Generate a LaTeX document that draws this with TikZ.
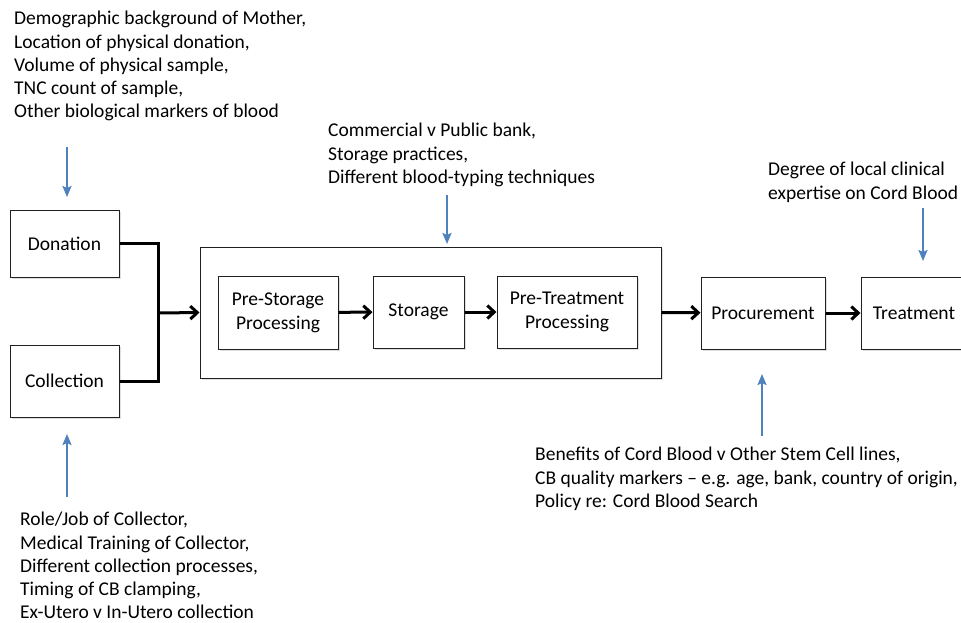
\documentclass[tikz,border=0pt]{standalone}
\usepackage{fontspec}
\setmainfont{Carlito}
\usetikzlibrary{arrows.meta,shadows}
\definecolor{noteBlue}{HTML}{4F81BD}
\definecolor{boxLine}{HTML}{202020}

\begin{document}
\begin{tikzpicture}[x=1pt,y=-1pt,>={Straight Barb[length=7pt,width=13pt]},
  stage/.style={draw=boxLine,line width=1pt,fill=white,inner sep=0pt,
    align=center,font=\fontsize{19.5}{24}\selectfont,
    drop shadow={opacity=0.25,shadow xshift=1.5pt,shadow yshift=-1.5pt}},
  note/.style={anchor=north west,inner sep=0pt,align=left,
    font=\fontsize{19.5}{23.3}\selectfont},
  flow/.style={line width=3pt,line join=miter},
  infl/.style={noteBlue,line width=2pt,-{Stealth[length=11pt,width=9pt,inset=2pt]}}]
\fill[white] (0,0) rectangle (961,622);
\clip (0,0) rectangle (961,622);
% stages
\node[stage,minimum width=109,minimum height=67] (don) at (64.5,243.5) {Donation};
\node[stage,minimum width=109,minimum height=72] (col) at (64.5,381) {Collection};
\node[stage,minimum width=461,minimum height=131] (bank) at (430.5,312.5) {};
\node[stage,minimum width=120,minimum height=73] (pre) at (278,312.5) {Pre-Storage\\Processing};
\node[stage,minimum width=91,minimum height=72] (sto) at (418.5,312) {Storage};
\node[stage,minimum width=140,minimum height=72] (ptp) at (567,312) {Pre-Treatment\\Processing};
\node[stage,minimum width=124,minimum height=72] (proc) at (763,313) {Procurement};
\node[stage,minimum width=106,minimum height=72] (treat) at (914,313) {Treatment};
% flow
\coordinate (join) at (158,313);
\draw[flow] (don.east) -| (join);
\draw[flow] (col.east) -| (join);
\draw[flow,->] (join) -- (bank.west);
\draw[flow,->] (pre) -- (sto);
\draw[flow,->] (sto) -- (ptp);
\draw[flow,->] (bank.east) -- (proc);
\draw[flow,->] (proc) -- (treat);
% influences
\node[note] (donnote) at (14,11) {Demographic background of Mother,\\Location of physical donation,\\Volume of physical sample,\\TNC count of sample,\\Other biological markers of blood};
\node[note] (banknote) at (328,123) {Commercial v Public bank,\\Storage practices,\\Different blood-typing techniques};
\node[note] (expnote) at (768,162) {Degree of local clinical\\expertise on Cord Blood};
\node[note] (procnote) at (535,447) {Benefits of Cord Blood v Other Stem Cell lines,\\CB quality markers -- e.g. age, bank, country of origin,\\Policy re: Cord Blood Search};
\node[note] (colnote) at (20,512) {Role/Job of Collector,\\Medical Training of Collector,\\Different collection processes,\\Timing of CB clamping,\\Ex-Utero v In-Utero collection};
\coordinate (a1) at (67,147);  \coordinate (b1) at (67,197);
\coordinate (a2) at (447,195); \coordinate (b2) at (447,244);
\coordinate (a3) at (923,208); \coordinate (b3) at (923,261);
\coordinate (a4) at (762,436); \coordinate (b4) at (762,374);
\coordinate (a5) at (67,497);  \coordinate (b5) at (67,434);
\foreach \i in {1,...,5} \draw[infl] (a\i) -- (b\i);
\end{tikzpicture}
\end{document}
